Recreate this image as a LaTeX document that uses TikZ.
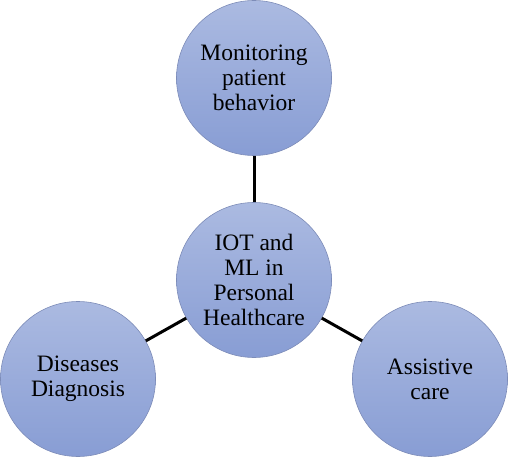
\documentclass[tikz,border=0pt]{standalone}
\usepackage{fontspec}
\setmainfont{Liberation Serif}
\usetikzlibrary{positioning}
\definecolor{bubtop}{HTML}{ABBAE1}
\definecolor{bubbot}{HTML}{889DD4}
\definecolor{bubline}{HTML}{7D8CB8}

\begin{document}
\begin{tikzpicture}[
  x=1pt, y=1pt,
  bubble/.style={circle, draw=bubline, line width=0.6pt, top color=bubtop, bottom color=bubbot,
    minimum size=155pt, inner sep=0pt, align=center,
    font=\fontsize{23.5}{25}\selectfont},
  link/.style={line width=3pt, draw=black}
]
  \useasboundingbox (0,0) rectangle (508,458);

  % hub and the three topics
  \node[bubble] (hub) at (254,178) {IOT and\\ML in\\Personal\\Healthcare};
  \node[bubble] (mon) at (254,380) {Monitoring\\patient\\behavior};
  \node[bubble] (diag) at (78,79) {Diseases\\Diagnosis};
  \node[bubble] (assist) at (430,79) {Assistive\\care};

  % connectors
  \draw[link] (hub) -- (mon);
  \draw[link] (hub) -- (diag);
  \draw[link] (hub) -- (assist);
\end{tikzpicture}
\end{document}
